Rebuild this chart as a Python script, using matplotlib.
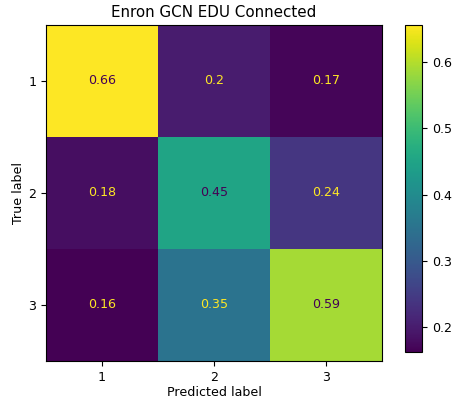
import matplotlib
matplotlib.use('Agg')
import matplotlib.pyplot as plt
import numpy as np

# normalized confusion matrix
labels = ['1', '2', '3']
cm = np.array([[0.6557, 0.20, 0.17],
               [0.18, 0.45, 0.24],
               [0.1625, 0.35, 0.59]])
title = 'Enron GCN EDU Connected'

# reference looks rendered a bit smaller than default
plt.rcParams['font.size'] = 9.1
plt.rcParams['axes.titlesize'] = 10.9

W, H = 455, 403
fig = plt.figure(figsize=(W / 100, H / 100), dpi=100)
ax = fig.add_axes([46 / W, (H - 361) / H, 336 / W, 336 / H])
cax = fig.add_axes([405 / W, (H - 352) / H, 17 / W, 327 / H])

cmap = plt.get_cmap('viridis')
im = ax.imshow(cm, interpolation='nearest', cmap=cmap, aspect='auto')
cmap_min, cmap_max = cmap(0), cmap(1.0)
thresh = (cm.max() + cm.min()) / 2.0

for i in range(cm.shape[0]):
    for j in range(cm.shape[1]):
        color = cmap_max if cm[i, j] < thresh else cmap_min
        ax.text(j, i, format(cm[i, j], '.2g'), ha='center', va='center', color=color)

fig.colorbar(im, cax=cax)
ax.set_xticks(np.arange(len(labels)))
ax.set_xticklabels(labels)
ax.set_yticks(np.arange(len(labels)))
ax.set_yticklabels(labels)
ax.set_xlabel('Predicted label', labelpad=2)
ax.set_ylabel('True label', labelpad=2)
ax.set_title(title, pad=5.5)

fig.savefig('out.png', dpi=100)
